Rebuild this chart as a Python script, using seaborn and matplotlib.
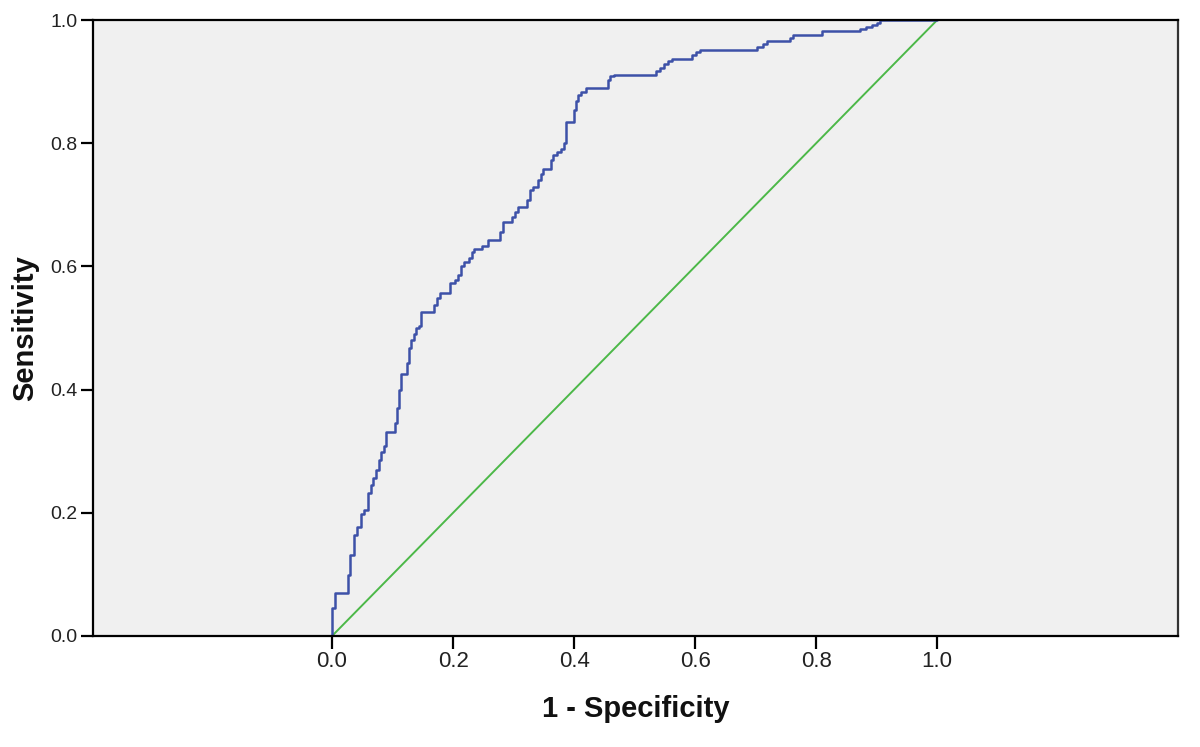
import matplotlib
matplotlib.use("Agg")
import matplotlib.pyplot as plt
import seaborn as sns
import pandas as pd

# ROC curve corners (start of each horizontal run)
fpr = [0.000, 0.000, 0.005, 0.026, 0.030, 0.036, 0.041, 0.048, 0.053, 0.060,
       0.064, 0.068, 0.073, 0.078, 0.081, 0.086, 0.089, 0.104, 0.107, 0.111,
       0.114, 0.124, 0.127, 0.131, 0.136, 0.139, 0.144, 0.147, 0.169, 0.174,
       0.179, 0.195, 0.203, 0.208, 0.213, 0.218, 0.226, 0.231, 0.235, 0.248,
       0.258, 0.278, 0.283, 0.298, 0.302, 0.307, 0.322, 0.327, 0.332, 0.340,
       0.345, 0.349, 0.362, 0.365, 0.372, 0.379, 0.383, 0.387, 0.400, 0.403,
       0.407, 0.412, 0.420, 0.456, 0.460, 0.466, 0.536, 0.542, 0.549, 0.555,
       0.562, 0.595, 0.602, 0.608, 0.702, 0.712, 0.719, 0.757, 0.762, 0.810,
       0.873, 0.883, 0.893, 0.901, 0.906, 1.000]
tpr = [0.000, 0.045, 0.070, 0.099, 0.131, 0.164, 0.177, 0.198, 0.205, 0.232,
       0.245, 0.256, 0.269, 0.286, 0.299, 0.308, 0.331, 0.346, 0.370, 0.399,
       0.425, 0.443, 0.468, 0.481, 0.490, 0.500, 0.503, 0.526, 0.537, 0.549,
       0.557, 0.573, 0.578, 0.586, 0.601, 0.607, 0.614, 0.623, 0.628, 0.633,
       0.643, 0.656, 0.672, 0.680, 0.688, 0.696, 0.708, 0.724, 0.729, 0.740,
       0.750, 0.758, 0.773, 0.781, 0.786, 0.791, 0.800, 0.834, 0.854, 0.869,
       0.878, 0.883, 0.890, 0.903, 0.909, 0.911, 0.917, 0.922, 0.929, 0.933,
       0.937, 0.943, 0.948, 0.951, 0.956, 0.961, 0.966, 0.971, 0.976, 0.982,
       0.985, 0.989, 0.992, 0.995, 1.000, 1.000]

ref_x = [0.0, 1.0]
ref_y = [0.0, 1.0]

tick_values = [0.0, 0.2, 0.4, 0.6, 0.8, 1.0]
tick_labels = ["0.0", "0.2", "0.4", "0.6", "0.8", "1.0"]

roc = pd.DataFrame({"fpr": fpr, "tpr": tpr})
ref = pd.DataFrame({"x": ref_x, "y": ref_y})

sns.set_style("ticks")
plt.rcParams["font.family"] = ["Liberation Sans", "DejaVu Sans"]

fig = plt.figure(figsize=(12, 7.47), dpi=100)
ax = fig.add_axes([0.0775, 0.1486, 0.9042, 0.8246])
ax.set_facecolor("#f0f0f0")

sns.lineplot(data=ref, x="x", y="y", color="#4cb848", linewidth=1.4,
             estimator=None, sort=False, ax=ax)
sns.lineplot(data=roc, x="fpr", y="tpr", color="#3d51a8", linewidth=1.8,
             estimator=None, sort=False, drawstyle="steps-post", ax=ax)

ax.set_xlim(-0.395, 1.398)
ax.set_ylim(0, 1)
ax.set_xticks(tick_values)
ax.set_xticklabels(tick_labels)
ax.set_yticks(tick_values)
ax.set_yticklabels(tick_labels)
ax.tick_params(axis="both", direction="out", length=9, width=1.6,
               color="black", labelcolor="#222222", pad=2)
ax.tick_params(axis="x", labelsize=16)
ax.tick_params(axis="y", labelsize=14)

for side in ["left", "bottom", "top"]:
    ax.spines[side].set_color("black")
    ax.spines[side].set_linewidth(1.6)
ax.spines["right"].set_color("#333333")
ax.spines["right"].set_linewidth(1.6)

ax.set_xlabel("1 - Specificity", fontsize=21, fontweight="bold", color="#111111")
ax.set_ylabel("Sensitivity", fontsize=21, fontweight="bold", color="#111111")
ax.xaxis.set_label_coords(0.5, -0.095)
ax.yaxis.set_label_coords(-0.05, 0.5)

fig.savefig("out.png", dpi=100, facecolor="white")
